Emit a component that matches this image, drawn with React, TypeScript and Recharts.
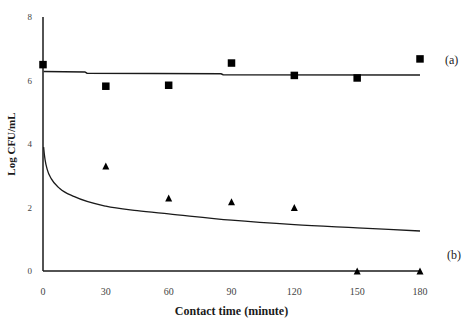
import React from 'react';
import { ComposedChart, Line, Scatter, XAxis, YAxis, Label } from 'recharts';

const xTicks = [0, 30, 60, 90, 120, 150, 180];
const yTicks = [0, 2, 4, 6, 8];

// series (a): measured points
const aTimes = [0, 30, 60, 90, 120, 150, 180];
const aValues = [6.5, 5.82, 5.85, 6.55, 6.16, 6.08, 6.68];
// series (b): measured points
const bTimes = [30, 60, 90, 120, 150, 180];
const bValues = [3.31, 2.3, 2.18, 2.0, 0, 0];

// fitted curves
const fitATimes = [0.3, 20, 21, 85, 86, 180];
const fitAValues = [6.28, 6.27, 6.23, 6.21, 6.18, 6.17];
const fitBTimes = [0.3, 0.6, 1, 2, 4, 8, 15, 30, 45, 60, 90, 120, 150, 180];
const fitBValues = [3.9, 3.7, 3.5, 3.2, 2.9, 2.6, 2.34, 2.04, 1.9, 1.8, 1.6, 1.46, 1.36, 1.26];

const aPoints = aTimes.map((t, i) => ({ t, v: aValues[i] }));
const bPoints = bTimes.map((t, i) => ({ t, v: bValues[i] }));
const fitA = fitATimes.map((t, i) => ({ t, v: fitAValues[i] }));
const fitB = fitBTimes.map((t, i) => ({ t, v: fitBValues[i] }));

const serif = '"Liberation Serif", "DejaVu Serif", serif';

const SquareMark = (props: any) => {
  const { cx, cy } = props;
  const s = 7.5;
  return <rect x={cx - s / 2} y={cy - s / 2} width={s} height={s} fill="#000" />;
};

const TriangleMark = (props: any) => {
  const { cx, cy } = props;
  const w = 7, h = 7;
  return <polygon points={`${cx},${cy - h / 2} ${cx + w / 2},${cy + h / 2} ${cx - w / 2},${cy + h / 2}`} fill="#000" />;
};

export default function App() {
  return (
    <div style={{ position: 'absolute', left: 0, top: 0, width: 463, height: 320, background: '#fff' }}>
      <ComposedChart width={463} height={320} margin={{ top: 17, right: 43, bottom: 19, left: 0 }}>
        <XAxis
          type="number"
          dataKey="t"
          domain={[0, 180]}
          ticks={xTicks}
          allowDuplicatedCategory={false}
          height={30}
          tickLine={false}
          tickSize={0}
          tickMargin={17}
          axisLine={{ stroke: '#1a1a1a', strokeWidth: 1.5 }}
          tick={{ fill: '#444', fontSize: 10, fontFamily: serif }}
        >
          <Label
            value="Contact time (minute)"
            position="insideBottom"
            offset={-14}
            style={{ fill: '#1a1a1a', fontSize: 12, fontWeight: 'bold', fontFamily: serif }}
          />
        </XAxis>
        <YAxis
          type="number"
          dataKey="v"
          domain={[0, 8]}
          ticks={yTicks}
          width={43}
          tickLine={false}
          tickSize={0}
          tickMargin={11}
          axisLine={{ stroke: '#1a1a1a', strokeWidth: 1.5 }}
          tick={{ fill: '#444', fontSize: 9, fontFamily: serif }}
        >
          <Label
            value="Log CFU/mL"
            angle={-90}
            position="insideLeft"
            offset={11}
            style={{ textAnchor: 'middle', fill: '#1a1a1a', fontSize: 11, fontWeight: 'bold', fontFamily: serif }}
          />
        </YAxis>
        <Line data={fitA} dataKey="v" type="linear" stroke="#1a1a1a" strokeWidth={1.5} dot={false} isAnimationActive={false} />
        <Line data={fitB} dataKey="v" type="monotone" stroke="#1a1a1a" strokeWidth={1.3} dot={false} isAnimationActive={false} />
        <Scatter data={aPoints} dataKey="v" shape={SquareMark} fill="#000" legendType="none" isAnimationActive={false} />
        <Scatter data={bPoints} dataKey="v" shape={TriangleMark} fill="#000" legendType="none" isAnimationActive={false} />
      </ComposedChart>
      <div style={{ position: 'absolute', left: 445, top: 53, fontFamily: serif, fontSize: 12, color: '#222' }}>(a)</div>
      <div style={{ position: 'absolute', left: 447, top: 248, fontFamily: serif, fontSize: 12, color: '#222' }}>(b)</div>
    </div>
  );
}
